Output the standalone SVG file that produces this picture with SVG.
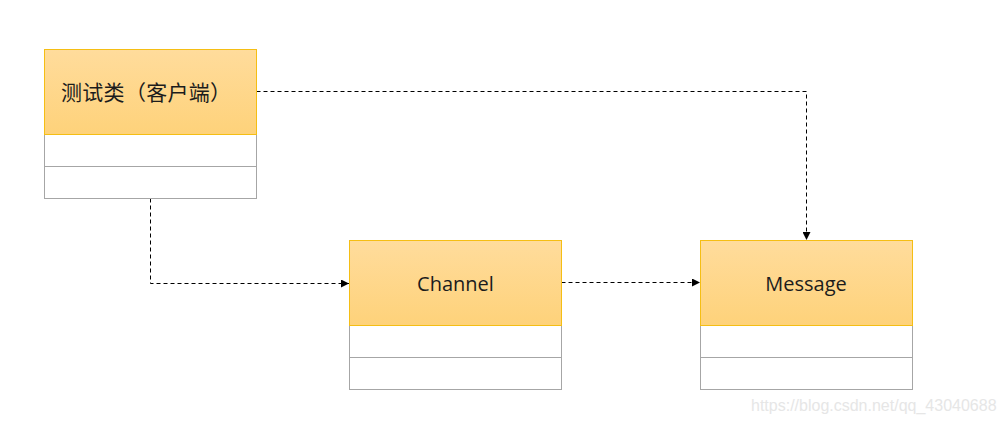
<svg xmlns="http://www.w3.org/2000/svg" width="1004" height="423" viewBox="0 0 1004 423">
<defs>
<linearGradient id="hdr" x1="0" y1="0" x2="0" y2="1">
<stop offset="0" stop-color="#FFDC9C"/>
<stop offset="1" stop-color="#FED27A"/>
</linearGradient>
<marker id="arr" viewBox="0 0 10 10" refX="10" refY="5" markerWidth="8" markerHeight="8" markerUnits="userSpaceOnUse" orient="auto">
<path d="M0,0 L10,5 L0,10 Z" fill="#000"/>
</marker>
<style>
.hdr{fill:url(#hdr);stroke:#F5BE14;stroke-width:1}
.row{fill:#FFFFFF;stroke:#A6A6A6;stroke-width:1}
.lbl{font-family:"Open Sans","Noto Sans CJK SC",sans-serif;font-size:20px;fill:#1C1C1C;text-anchor:middle}
.cjk{font-family:"Noto Sans CJK SC",sans-serif;font-size:21px;fill:#1C1C1C;text-spacing-trim:space-all}
.par{font-family:"Noto Sans CJK JP","Noto Sans CJK SC",sans-serif}
.edge{fill:none;stroke:#000;stroke-width:1;stroke-dasharray:4 3;marker-end:url(#arr)}
.wm{font-family:"Liberation Sans",Arial,sans-serif;font-size:16px;fill:#E6E6E6}
</style>
</defs>
<rect width="1004" height="423" fill="#FFFFFF"/>
<g id="connectors">
<path class="edge" d="M256.5,91.5 H806.5 V240"/>
<path class="edge" d="M150.5,198.5 V283.5 H349"/>
<path class="edge" d="M561.5,282.5 H700"/>
</g>
<g id="node-client">
<rect class="row" x="44.5" y="134.5" width="212" height="32"/>
<rect class="row" x="44.5" y="166.5" width="212" height="32"/>
<rect class="hdr" x="44.5" y="49.5" width="212" height="85"/>
<text class="cjk" y="99.5"><tspan x="61 82.3 103.6">测试类</tspan><tspan class="par" x="124.9">（</tspan><tspan x="146.2 167.5 188.8">客户端</tspan><tspan class="par" x="210.1">）</tspan></text>
</g>
<g id="node-channel">
<rect class="row" x="349.5" y="325.5" width="212" height="32"/>
<rect class="row" x="349.5" y="357.5" width="212" height="32"/>
<rect class="hdr" x="349.5" y="240.5" width="212" height="85"/>
<text class="lbl" x="455.5" y="291">Channel</text>
</g>
<g id="node-message">
<rect class="row" x="700.5" y="325.5" width="212" height="32"/>
<rect class="row" x="700.5" y="357.5" width="212" height="32"/>
<rect class="hdr" x="700.5" y="240.5" width="212" height="85"/>
<text class="lbl" x="806" y="291">Message</text>
</g>
<text class="wm" x="751" y="411">https://blog.csdn.net/qq_43040688</text>
</svg>
